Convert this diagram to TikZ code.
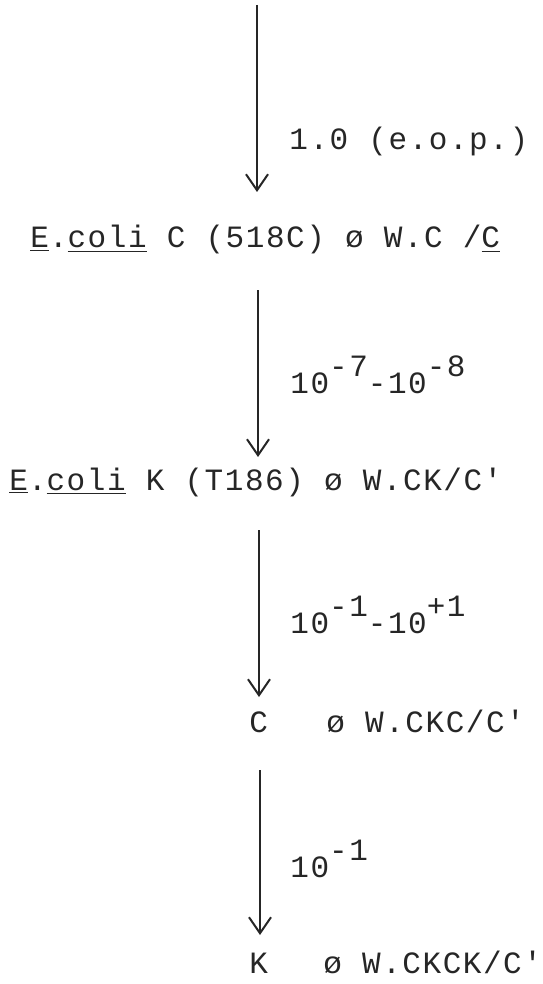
\documentclass[tikz,border=0pt]{standalone}
\usepackage{fontspec}
\setmonofont[LetterSpace=5]{Liberation Mono}
\usetikzlibrary{arrows.meta}
\newcommand\supr[1]{\raisebox{8.5pt}{#1}}
\begin{document}
\begin{tikzpicture}[x=0.5pt,y=-0.5pt,
  txt/.style={inner sep=0pt, anchor=base west, font=\fontsize{15.5}{19}\selectfont\ttfamily, text=black!85},
  flow/.style={line width=1pt, draw=black!85, -{Straight Barb[length=8pt,width=11pt,line width=1pt]}}]
\useasboundingbox (0,0) rectangle (542,984);
% rows
\node[txt] (l1) at (30,248) {\underline{E}.\underline{coli} C (518C) ø W.C /\underline{C}};
\node[txt] (l2) at (9,490) {\underline{E}.\underline{coli} K (T186) ø W.CK/C'};
\node[txt] (l3a) at (249,732) {C};
\node[txt] (l3b) at (326,732) {ø W.CKC/C'};
\node[txt] (l4a) at (249,973) {K};
\node[txt] (l4b) at (323,973) {ø W.CKCK/C'};
% labels
\node[txt] (r1) at (289,150) {1.0 (e.o.p.)};
\node[txt] (r2) at (290,393) {10\supr{-7}-10\supr{-8}};
\node[txt] (r3) at (290,633) {10\supr{-1}-10\supr{+1}};
\node[txt] (r4) at (290,877) {10\supr{-1}};
% arrows
\coordinate (s1) at (257,5);   \coordinate (e1) at (257,192);
\coordinate (s2) at (258,290); \coordinate (e2) at (258,457);
\coordinate (s3) at (259,530); \coordinate (e3) at (259,697);
\coordinate (s4) at (260,770); \coordinate (e4) at (260,935);
\draw[flow] (s1) -- (e1);
\draw[flow] (s2) -- (e2);
\draw[flow] (s3) -- (e3);
\draw[flow] (s4) -- (e4);
\end{tikzpicture}
\end{document}
